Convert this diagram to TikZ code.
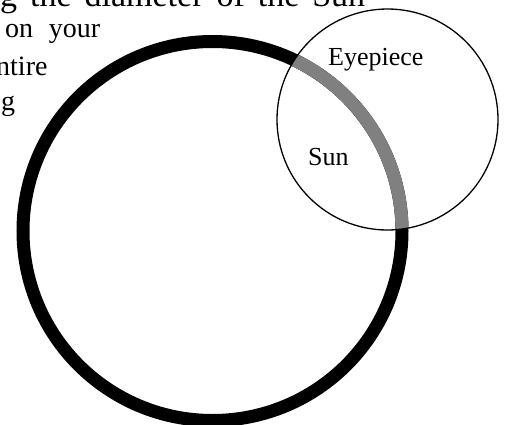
\documentclass[tikz,border=0pt]{standalone}
\usepackage{fontspec}
\setmainfont{Liberation Serif}
\begin{document}
\begin{tikzpicture}[x=1pt,y=-1pt,
  txt/.style={inner sep=0pt, anchor=base west, font=\fontsize{28}{32}\selectfont},
  bigtxt/.style={inner sep=0pt, anchor=base west, font=\fontsize{34}{38}\selectfont},
  lbl/.style={inner sep=0pt, anchor=base west, font=\fontsize{26}{30}\selectfont},
  ring/.style={line width=13pt},
  eyering/.style={line width=1.3pt}]
\useasboundingbox (0,0) rectangle (506,424);
\clip (0,0) rectangle (506,424);
\coordinate (sunc) at (212.5,231);
\coordinate (eyec) at (387.5,119.5);
\draw[ring] (sunc) circle[radius=189.5pt];
\begin{scope}
  \clip (eyec) circle[radius=110.5pt];
  \draw[ring, gray] (sunc) circle[radius=189.5pt];
\end{scope}
\draw[eyering] (eyec) circle[radius=110.5pt];
\node[lbl] (eyepiece) at (328,65) {Eyepiece};
\node[lbl] (sun) at (308,165.5) {Sun};
\node[bigtxt] (l1) at (0,6) {\makebox[365pt][s]{g the diameter of the Sun}};
\node[txt] (l2) at (5,37.5) {\makebox[95pt][s]{on your}};
\node[txt] (l3) at (-4,75) {ntire};
\node[txt] (l4) at (1,110) {g};
\end{tikzpicture}
\end{document}
